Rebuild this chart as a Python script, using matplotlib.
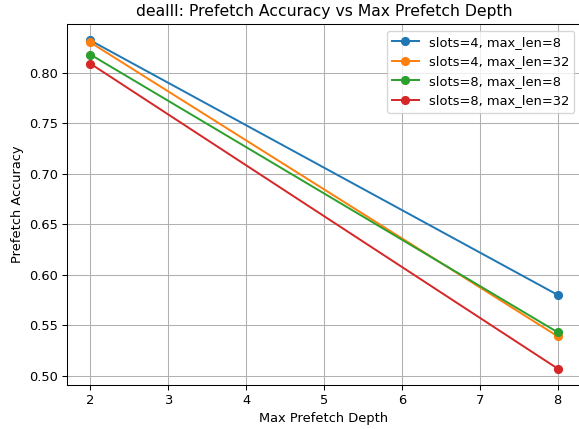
import matplotlib
matplotlib.use("Agg")
import matplotlib.pyplot as plt

depths = [2, 8]
labels = ["slots=4, max_len=8", "slots=4, max_len=32",
          "slots=8, max_len=8", "slots=8, max_len=32"]
acc_s4_l8 = [0.832, 0.580]
acc_s4_l32 = [0.830, 0.539]
acc_s8_l8 = [0.818, 0.543]
acc_s8_l32 = [0.809, 0.507]
series = [acc_s4_l8, acc_s4_l32, acc_s8_l8, acc_s8_l32]

W, H, DPI = 579, 429, 94
fig = plt.figure(figsize=(W / DPI, H / DPI), dpi=DPI)
# axes box in pixels: left, bottom, width, height
ax = fig.add_axes([67 / W, (H - 385) / H, 514 / W, 361 / H])
for vals, lab in zip(series, labels):
    ax.plot(depths, vals, marker="o", label=lab)

ax.set_title("dealII: Prefetch Accuracy vs Max Prefetch Depth")
ax.set_xlabel("Max Prefetch Depth")
ax.set_ylabel("Prefetch Accuracy")
ax.grid(True)
ax.legend()
fig.savefig("out.png", dpi=DPI)
